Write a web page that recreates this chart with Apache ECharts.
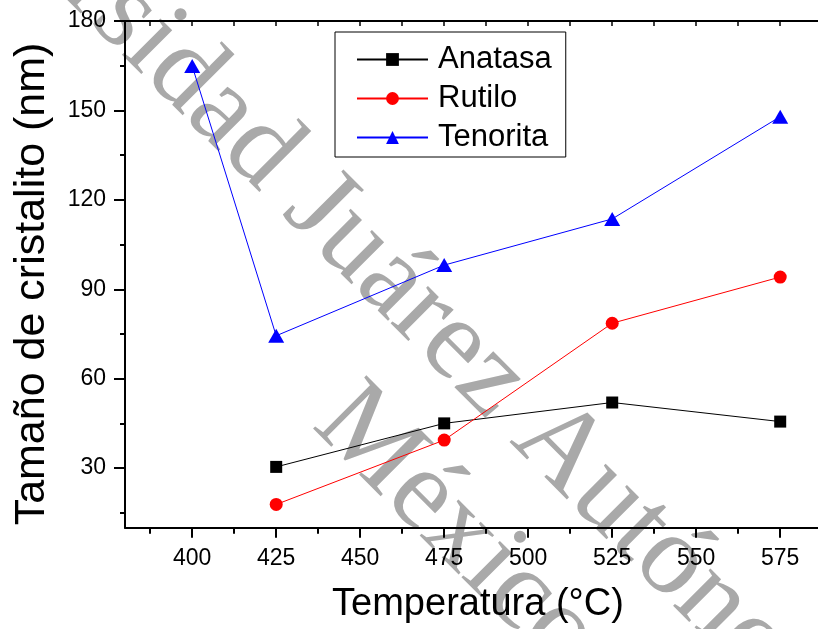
<!DOCTYPE html>
<html><head><meta charset="utf-8">
<script src="https://cdn.jsdelivr.net/npm/echarts@6/dist/echarts.min.js"></script>
<style>html,body{margin:0;padding:0;background:#fff}#c{width:818px;height:629px}</style>
</head><body><div id="c"></div>
<script>
const temperatures = [400, 425, 475, 525, 575];
const anatasa = [null, 30.4, 45.0, 52.0, 45.6];
const rutilo = [null, 17.8, 39.4, 78.6, 94.1];
const tenorita = [164.9, 74.4, 98.1, 113.6, 147.9];
const xTickLabels = [400, 425, 450, 475, 500, 525, 550, 575];
const xMinorTicks = [387.5, 412.5, 437.5, 462.5, 487.5, 512.5, 537.5, 562.5];
const yTickLabels = [30, 60, 90, 120, 150, 180];
const yMinorTicks = [15, 45, 75, 105, 135, 165];
const seriesNames = ['Anatasa', 'Rutilo', 'Tenorita'];
const xTitle = 'Temperatura (°C)';
const yTitle = 'Tamaño de cristalito (nm)';

function pairs(vals) {
  const out = [];
  temperatures.forEach((t, i) => { if (vals[i] != null) out.push([t, vals[i]]); });
  return out;
}
const FONT = '"Liberation Sans", Arial, sans-serif';
const chart = echarts.init(document.getElementById('c'), null, {renderer: 'canvas'});
const axisBase = {type: 'value', gridIndex: 0, splitLine: {show: false}};
const XMIN = 380, XMAX = 586.25, YMIN = 10, YMAX = 180;
chart.setOption({
  animation: false,
  backgroundColor: '#fff',
  grid: {left: 125, top: 21, right: 0, height: 506.7, containLabel: false},
  xAxis: [
    Object.assign({}, axisBase, {
      min: XMIN, max: XMAX, position: 'bottom',
      axisLine: {show: true, onZero: false, lineStyle: {color: '#000', width: 2}},
      axisTick: {show: true, inside: false, length: 10, lineStyle: {color: '#000', width: 2}, customValues: xTickLabels},
      axisLabel: {show: true, customValues: xTickLabels, fontSize: 23, fontFamily: FONT, color: '#000', margin: 19}
    }),
    Object.assign({}, axisBase, {
      min: XMIN, max: XMAX, position: 'bottom',
      axisLine: {show: false, onZero: false},
      axisTick: {show: true, inside: false, length: 6, lineStyle: {color: '#000', width: 2}, customValues: xMinorTicks},
      axisLabel: {show: false}
    }),
    Object.assign({}, axisBase, {
      min: XMIN, max: XMAX, position: 'top',
      axisLine: {show: true, onZero: false, lineStyle: {color: '#000', width: 2}},
      axisTick: {show: true, inside: true, length: 5, lineStyle: {color: '#000', width: 1.5}, customValues: xTickLabels.concat(xMinorTicks)},
      axisLabel: {show: false}
    })
  ],
  yAxis: [
    Object.assign({}, axisBase, {
      min: YMIN, max: YMAX, position: 'left',
      axisLine: {show: true, onZero: false, lineStyle: {color: '#000', width: 2}},
      axisTick: {show: true, inside: false, length: 11, lineStyle: {color: '#000', width: 2}, customValues: yTickLabels},
      axisLabel: {show: true, customValues: yTickLabels, fontSize: 23, fontFamily: FONT, color: '#000', margin: 19}
    }),
    Object.assign({}, axisBase, {
      min: YMIN, max: YMAX, position: 'left',
      axisLine: {show: false, onZero: false},
      axisTick: {show: true, inside: false, length: 5, lineStyle: {color: '#000', width: 2}, customValues: yMinorTicks},
      axisLabel: {show: false}
    })
  ],
  legend: {
    orient: 'vertical', left: 335, top: 32,
    padding: [12, 14, 4, 21], itemGap: 8,
    itemWidth: 71, itemHeight: 16,
    borderColor: '#000', borderWidth: 1,
    selectedMode: false,
    textStyle: {fontSize: 31, fontFamily: FONT, color: '#000', padding: [0, 0, 0, 5]},
    data: seriesNames
  },
  graphic: [
    {type: 'text', z: 0, x: 302, y: 192, rotation: -Math.PI / 4,
     style: {text: 'Juárez Autónoma de Tabasco', font: '115px "Liberation Serif", serif', fill: '#a9a9a9', align: 'left', verticalAlign: 'middle'}},
    {type: 'text', z: 0, x: 302, y: 192, rotation: -Math.PI / 4,
     style: {text: 'Universidad ', font: '115px "Liberation Serif", serif', fill: '#a9a9a9', align: 'right', verticalAlign: 'middle'}},
    {type: 'text', z: 0, x: 332, y: 405, rotation: -Math.PI / 4,
     style: {text: 'México', font: '115px "Liberation Serif", serif', fill: '#a9a9a9', align: 'left', verticalAlign: 'middle'}},
    {type: 'text', z: 10, x: 478, y: 605,
     style: {text: xTitle, font: '38px ' + FONT, fill: '#000', align: 'center', verticalAlign: 'middle'}},
    {type: 'text', z: 10, x: 32, y: 284, rotation: Math.PI / 2,
     style: {text: yTitle, font: '43px ' + FONT, fill: '#000', align: 'center', verticalAlign: 'middle'}}
  ],
  series: [
    {name: seriesNames[0], type: 'line', data: pairs(anatasa), symbol: 'rect', symbolSize: 12,
     itemStyle: {color: '#000'}, lineStyle: {color: '#000', width: 1}, z: 5},
    {name: seriesNames[1], type: 'line', data: pairs(rutilo), symbol: 'circle', symbolSize: 13,
     itemStyle: {color: '#ff0000'}, lineStyle: {color: '#ff0000', width: 1}, z: 5},
    {name: seriesNames[2], type: 'line', data: pairs(tenorita), symbol: 'triangle', symbolSize: [16, 14],
     itemStyle: {color: '#0000ff'}, lineStyle: {color: '#0000ff', width: 1}, z: 5}
  ]
});
</script></body></html>
